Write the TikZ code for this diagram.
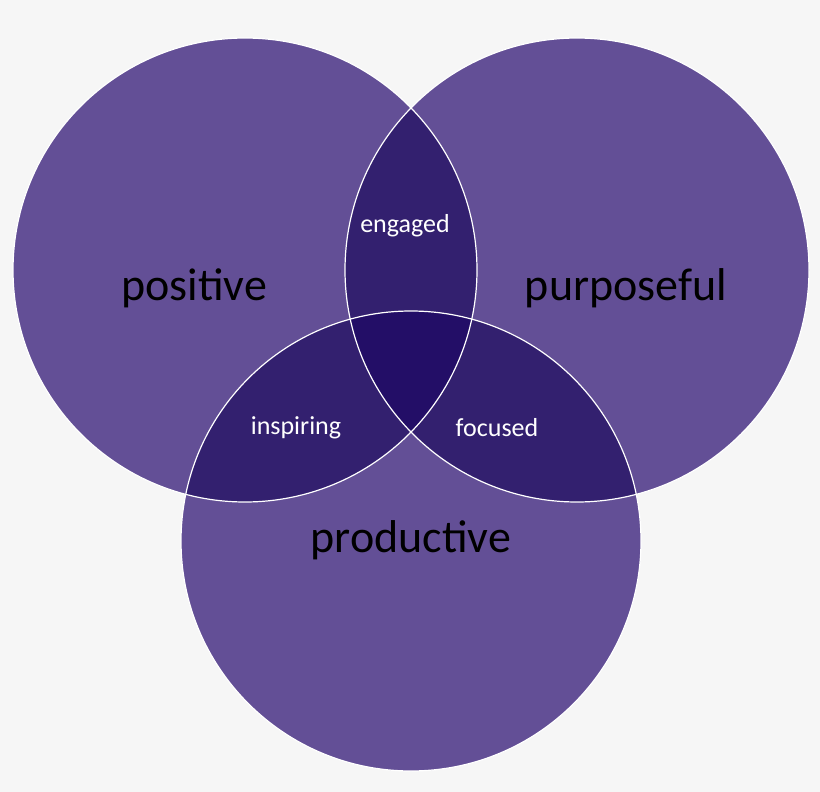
\documentclass[tikz,border=0pt]{standalone}
\usepackage{fontspec}
\setmainfont{Carlito}
\definecolor{ring}{HTML}{634F96}
\definecolor{pairs}{HTML}{33206F}
\definecolor{core}{HTML}{230E67}
\definecolor{paper}{HTML}{F6F6F6}

\begin{document}
\begin{tikzpicture}[x=1pt,y=-1pt]
       \tikzset{big/.style={font=\fontsize{46}{50}\selectfont},
                small/.style={font=\fontsize{26}{30}\selectfont, color=white}}
       \fill[paper] (0,0) rectangle (820,792);
       \def\pL{(245,270) circle (232)}
       \def\pR{(577,270) circle (232)}
       \def\pB{(411,541) circle (230)}
       
       \fill[ring] \pL; \fill[ring] \pR; \fill[ring] \pB;
       \begin{scope} \clip \pL; \fill[pairs] \pR; \fill[pairs] \pB; \end{scope}
       \begin{scope} \clip \pR; \fill[pairs] \pB; \end{scope}
       \begin{scope} \clip \pL; \clip \pR; \fill[core] \pB; \end{scope}
       \draw[white, line width=1.2] \pL; \draw[white, line width=1.2] \pR;
       \draw[white, line width=1.2] \pB;
       
       \node[big] (positive) at (194,288) {positive};
       \node[big] (purposeful) at (626,288) {purposeful};
       \node[big] (productive) at (411,540) {productive};
       \node[small] (engaged) at (405,226) {engaged};
       \node[small] (inspiring) at (296,428) {inspiring};
       \node[small] (focused) at (497,428) {focused};
\end{tikzpicture}
\end{document}
